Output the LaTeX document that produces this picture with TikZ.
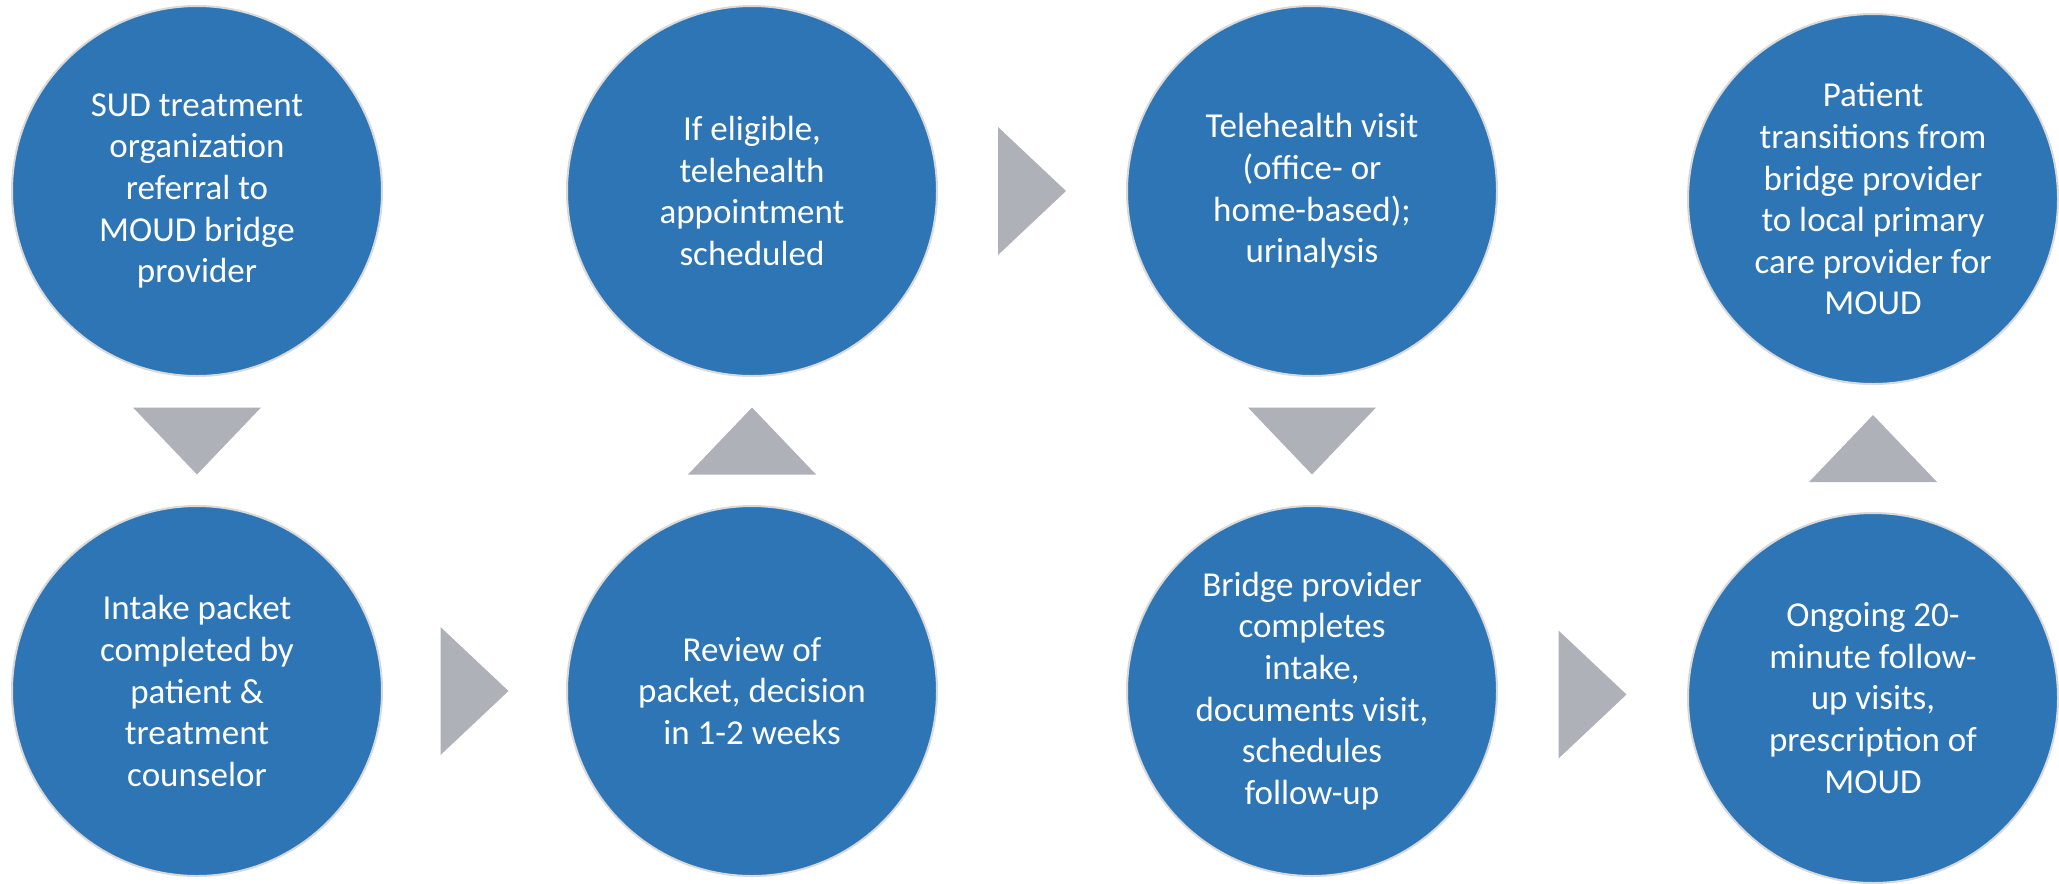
\documentclass[tikz,border=0pt]{standalone}
\usepackage{fontspec}
\setmainfont{Carlito}
\usetikzlibrary{calc}

\begin{document}
\begin{tikzpicture}[x=0.75pt,y=0.75pt,yscale=-1,xscale=1,
  stepcirc/.style={circle, draw={rgb, 255:red, 217; green, 217; blue, 217}, line width=1.5, fill={rgb, 255:red, 46; green, 117; blue, 182}, minimum size=277.5pt, inner sep=0pt, text=white, align=center, font=\fontsize{26.25}{31.2}\selectfont},
  flowtri/.style={fill={rgb, 255:red, 174; green, 177; blue, 184}}]
\useasboundingbox (0,0) rectangle (2059,883);

%Shape: Circle [step 1]
\node[stepcirc] (refer) at (197,191) {SUD treatment\\organization\\referral to\\MOUD bridge\\provider};
%Shape: Circle [step 2]
\node[stepcirc] (intake) at (197,691) {Intake packet\\completed by\\patient \&\\treatment\\counselor};
%Shape: Circle [step 3]
\node[stepcirc] (review) at (752,691) {Review of\\packet, decision\\in 1-2 weeks};
%Shape: Circle [step 4]
\node[stepcirc] (sched) at (752,191) {If eligible,\\telehealth\\appointment\\scheduled};
%Shape: Circle [step 5]
\node[stepcirc] (visit) at (1312,191) {Telehealth visit\\(office- or\\home-based);\\urinalysis};
%Shape: Circle [step 6]
\node[stepcirc] (bridge) at (1312,691) {Bridge provider\\completes\\intake,\\documents visit,\\schedules\\follow-up};
%Shape: Circle [step 7]
\node[stepcirc] (ongoing) at (1873,698) {Ongoing 20-\\minute follow-\\up visits,\\prescription of\\MOUD};
%Shape: Circle [step 8]
\node[stepcirc] (transit) at (1873,199) {Patient\\transitions from\\bridge provider\\to local primary\\care provider for\\MOUD};

%Shape: Triangle [down]
\coordinate (t12) at ($(refer.south)!0.5!(intake.north)$);
\fill[flowtri] ($(t12)+(-64,-33.5)$) -- ($(t12)+(64,-33.5)$) -- ($(t12)+(0,33.5)$) -- cycle;
%Shape: Triangle [right]
\coordinate (t23) at ($(intake.east)!0.5!(review.west)$);
\fill[flowtri] ($(t23)+(-34,-64)$) -- ($(t23)+(-34,64)$) -- ($(t23)+(34,0)$) -- cycle;
%Shape: Triangle [up]
\coordinate (t34) at ($(review.north)!0.5!(sched.south)$);
\fill[flowtri] ($(t34)+(-64,33.5)$) -- ($(t34)+(64,33.5)$) -- ($(t34)+(0,-33.5)$) -- cycle;
%Shape: Triangle [right]
\coordinate (t45) at ($(sched.east)!0.5!(visit.west)$);
\fill[flowtri] ($(t45)+(-34,-64)$) -- ($(t45)+(-34,64)$) -- ($(t45)+(34,0)$) -- cycle;
%Shape: Triangle [down]
\coordinate (t56) at ($(visit.south)!0.5!(bridge.north)$);
\fill[flowtri] ($(t56)+(-64,-33.5)$) -- ($(t56)+(64,-33.5)$) -- ($(t56)+(0,33.5)$) -- cycle;
%Shape: Triangle [right]
\coordinate (t67) at ($(bridge.east)!0.5!(ongoing.west)$);
\fill[flowtri] ($(t67)+(-34,-64)$) -- ($(t67)+(-34,64)$) -- ($(t67)+(34,0)$) -- cycle;
%Shape: Triangle [up]
\coordinate (t78) at ($(ongoing.north)!0.5!(transit.south)$);
\fill[flowtri] ($(t78)+(-64,33.5)$) -- ($(t78)+(64,33.5)$) -- ($(t78)+(0,-33.5)$) -- cycle;

\end{tikzpicture}
\end{document}
